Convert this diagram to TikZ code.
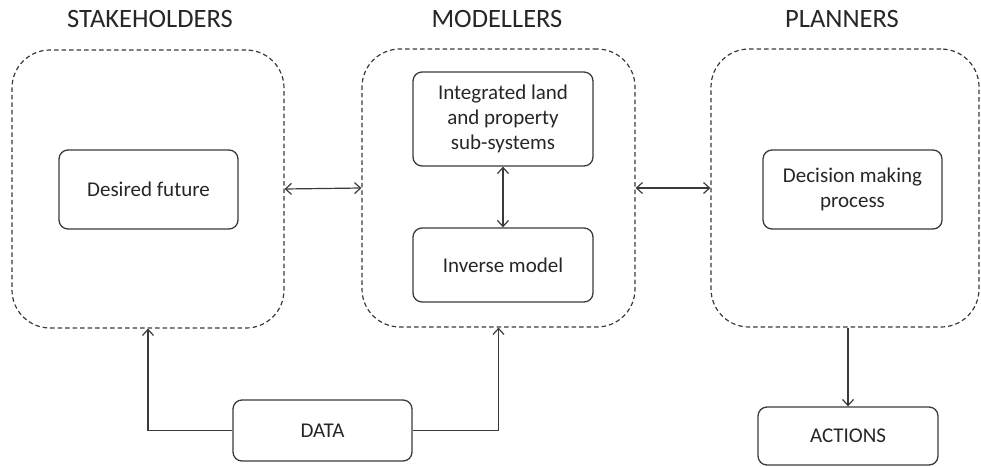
\documentclass[tikz,border=0pt]{standalone}
\usepackage{fontspec}
\setmainfont{Carlito}
\usetikzlibrary{arrows.meta}
\definecolor{ink}{HTML}{3A3A3A}
\begin{document}
\begin{tikzpicture}[x=1pt,y=-1pt,
  >={Straight Barb[length=6pt,width=11pt]},
  group/.style={draw=ink,line width=1.2pt,dash pattern=on 4.5pt off 3pt,rounded corners=38pt,minimum width=#1,minimum height=278pt,inner sep=0pt},
  box/.style={draw=ink,line width=1.3pt,rounded corners=9pt,align=center,text=black!85,font=\fontsize{21}{25}\selectfont,inner sep=0pt},
  title/.style={font=\fontsize{26.5}{30}\selectfont,text=black!85},
  conn/.style={draw=ink,line width=1.2pt}]
\useasboundingbox (0,0) rectangle (981,466);
\node[title] (t1) at (150,19) {STAKEHOLDERS};
\node[title] (t2) at (497,19) {MODELLERS};
\node[title] (t3) at (842,19) {PLANNERS};
\node[group=272pt] (stake) at (148,189) {};
\node[group=273pt] (mod) at (498.5,188) {};
\node[group=268pt] (plan) at (845,188) {};
\node[box,minimum width=179pt,minimum height=79pt] (des) at (148.5,189.5) {Desired future};
\node[box,minimum width=180pt,minimum height=94pt] (integ) at (503,119) {Integrated land\\and property\\sub-systems};
\node[box,minimum width=180pt,minimum height=74pt] (inv) at (503,265) {Inverse model};
\node[box,minimum width=179pt,minimum height=79pt] (dec) at (852.5,189.5) {Decision making\\process};
\node[box,minimum width=179pt,minimum height=61pt] (data) at (322.5,430.5) {DATA};
\node[box,minimum width=180pt,minimum height=58pt] (act) at (848,436) {ACTIONS};
\draw[conn,<->] (stake.east) -- (mod.west);
\draw[conn,<->] (mod.east) -- (plan.west);
\draw[conn,<->] (integ.south) -- (inv.north);
\draw[conn,->] (data.west) -| (stake.south);
\draw[conn,->] (data.east) -| (mod.south);
\draw[conn,->] (plan.south -| act.north) -- (act.north);
\end{tikzpicture}
\end{document}
